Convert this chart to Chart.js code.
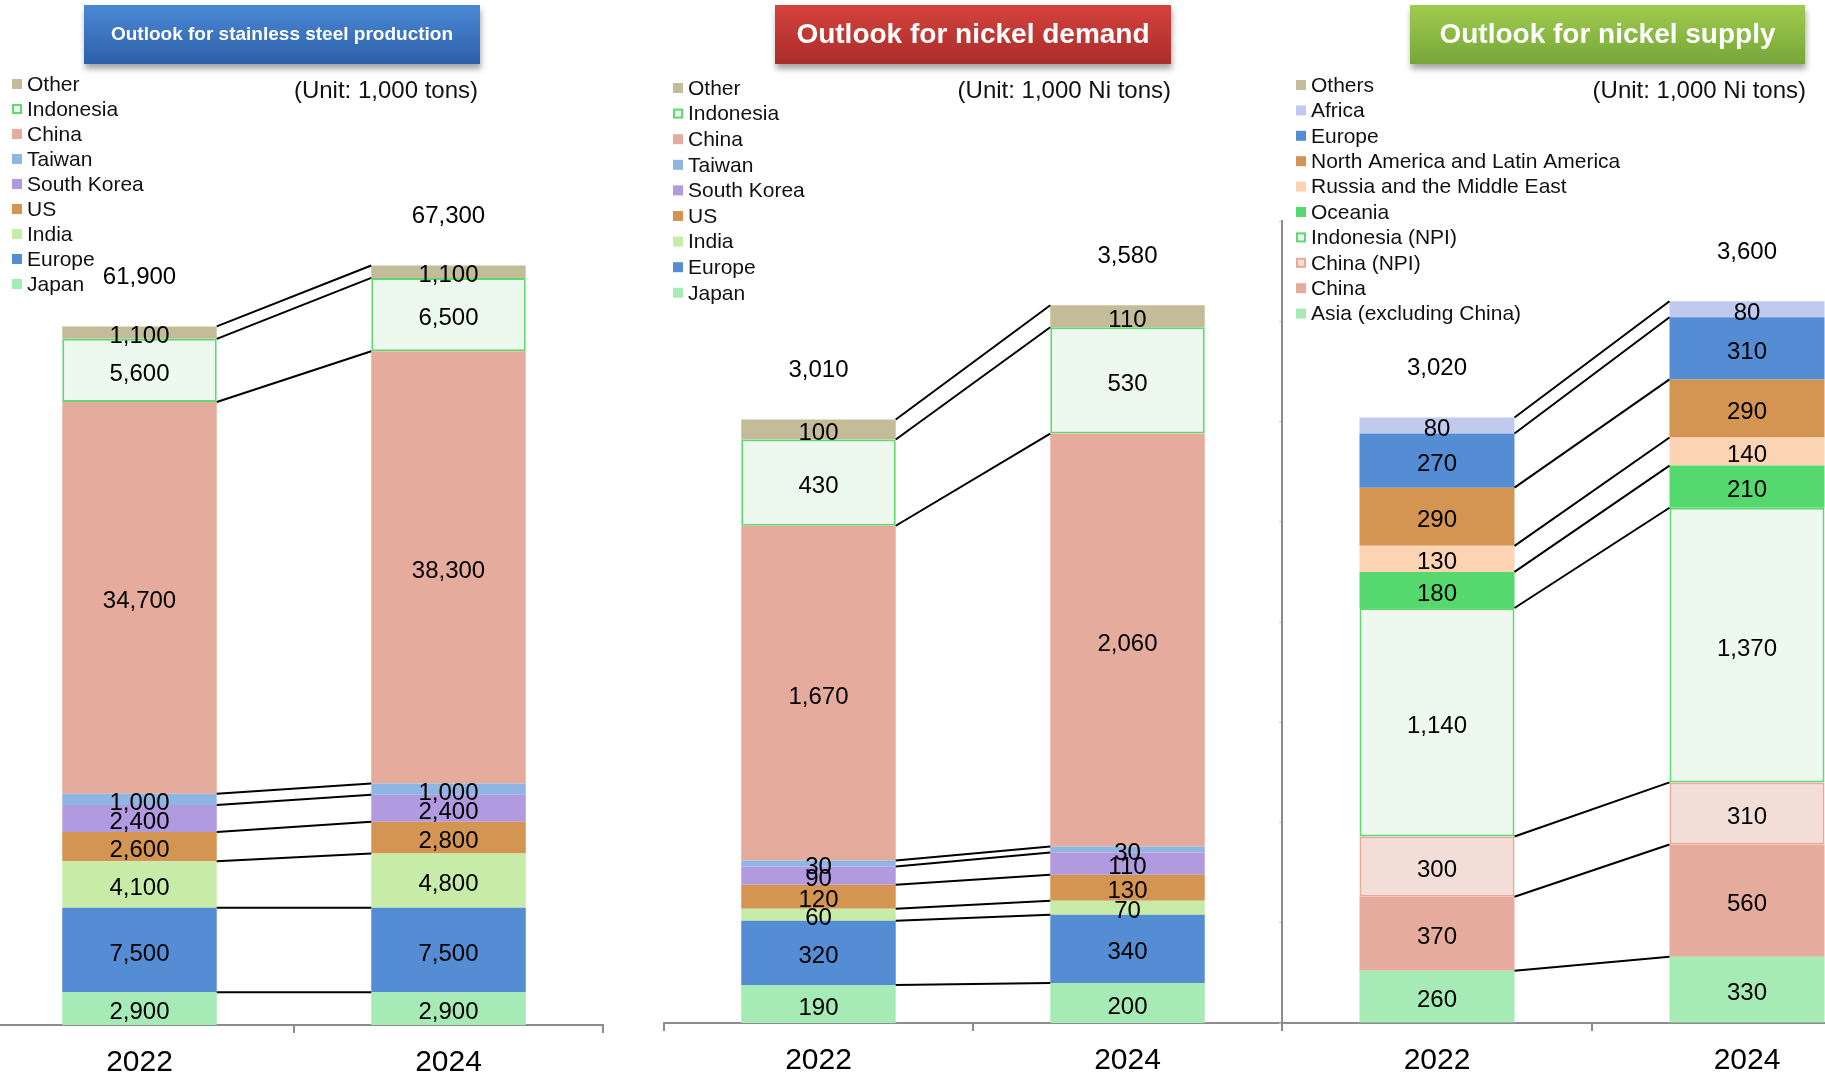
<!DOCTYPE html>
<html>
<head>
<meta charset="utf-8">
<title>Stainless steel and nickel outlook</title>
<script src="https://cdn.jsdelivr.net/npm/chart.js@4.4.1/dist/chart.umd.min.js"></script>
<style>
  body { margin: 0; background: #fff; overflow: hidden; }
  #page { position: relative; width: 1825px; height: 1075px; overflow: hidden; font-family: "Liberation Sans", Arial, sans-serif; }
  canvas { position: absolute; top: 0; }
  .title { position: absolute; top: 5px; height: 59px; line-height: 57px; text-align: center; color: #fff; font-weight: bold;
           box-shadow: 1px 5px 6px rgba(0,0,0,0.35); }
  .unit { position: absolute; top: 76px; font-size: 24px; line-height: 28px; color: #111; white-space: nowrap; }
</style>
</head>
<body>
<div id="page">
  <canvas id="steel" width="624" height="1075" style="left:-20px"></canvas>
  <canvas id="demand" width="664" height="1075" style="left:637px"></canvas>
  <canvas id="supply" width="640" height="1075" style="left:1270px"></canvas>

  <div class="title" style="left:84px;width:396px;font-size:19px;background:linear-gradient(#4b89d6,#2d5fa8);">Outlook for stainless steel production</div>
  <div class="title" style="left:775px;width:396px;font-size:28px;background:linear-gradient(#d6423d,#a92d2a);">Outlook for nickel demand</div>
  <div class="title" style="left:1410px;width:395px;font-size:28px;background:linear-gradient(#a0cc4c,#76a63a);">Outlook for nickel supply</div>

  <div class="unit" style="right:1347px">(Unit: 1,000 tons)</div>
  <div class="unit" style="right:654px">(Unit: 1,000 Ni tons)</div>
  <div class="unit" style="right:19px">(Unit: 1,000 Ni tons)</div>
</div>

<script>
// ---- data (stack order: bottom first) ----
var years = ['2022', '2024'];

var steelRegions = ['Japan', 'Europe', 'India', 'US', 'South Korea', 'Taiwan', 'China', 'Indonesia', 'Other'];
var steel2022 = [2900, 7500, 4100, 2600, 2400, 1000, 34700, 5600, 1100];
var steel2024 = [2900, 7500, 4800, 2800, 2400, 1000, 38300, 6500, 1100];
var steelTotals = [61900, 67300];

var demandRegions = ['Japan', 'Europe', 'India', 'US', 'South Korea', 'Taiwan', 'China', 'Indonesia', 'Other'];
var demand2022 = [190, 320, 60, 120, 90, 30, 1670, 430, 100];
var demand2024 = [200, 340, 70, 130, 110, 30, 2060, 530, 110];
var demandTotals = [3010, 3580];

var supplyRegions = ['Asia (excluding China)', 'China', 'China (NPI)', 'Indonesia (NPI)', 'Oceania',
  'Russia and the Middle East', 'North America and Latin America', 'Europe', 'Africa', 'Others'];
var supply2022 = [260, 370, 300, 1140, 180, 130, 290, 270, 80, 0];
var supply2024 = [330, 560, 310, 1370, 210, 140, 290, 310, 80, 0];
var supplyTotals = [3020, 3600];

// ---- colours ----
var colors = {
  'Japan': '#a6eab5',
  'Europe': '#548dd4',
  'India': '#c6eca8',
  'US': '#d49552',
  'South Korea': '#b19ae0',
  'Taiwan': '#8fb5e3',
  'China': '#e5ac9d',
  'Indonesia': '#edf9ef',
  'Other': '#c4bc98',
  'Others': '#c4bc98',
  'Asia (excluding China)': '#a6eab5',
  'China (NPI)': '#f3ddd7',
  'Indonesia (NPI)': '#edf9ef',
  'Oceania': '#55d96e',
  'Russia and the Middle East': '#fcd4b4',
  'North America and Latin America': '#d49552',
  'Africa': '#c0caee'
};
var borders = {
  'Indonesia': '#5fd970',
  'Indonesia (NPI)': '#5fd970',
  'China (NPI)': '#eaa998'
};

var FONT = '"Liberation Sans", Arial, sans-serif';

function fmt(v) {
  return v.toLocaleString('en-US');
}

function makeDatasets(regions, a, b) {
  var sets = [];
  for (var i = 0; i < regions.length; i++) {
    var name = regions[i];
    sets.push({
      label: name,
      data: [a[i], b[i]],
      backgroundColor: colors[name],
      borderColor: borders[name] || colors[name],
      borderWidth: borders[name] ? 2 : 0,
      borderSkipped: false
    });
  }
  return sets;
}

// lines between stacks, value labels, totals and the legend list
var decorations = {
  id: 'decorations',
  afterDatasetsDraw: function(chart, args, opts) {
    var ctx = chart.ctx;
    var n = chart.data.datasets.length;
    ctx.save();

    // connector lines from the top of each segment
    ctx.strokeStyle = '#000';
    ctx.lineWidth = 2;
    for (var i = 0; i < n; i++) {
      var ds = chart.data.datasets[i];
      if (!ds.data[0] && !ds.data[1]) continue;
      var bars = chart.getDatasetMeta(i).data;
      ctx.beginPath();
      ctx.moveTo(bars[0].x + bars[0].width / 2, bars[0].y);
      ctx.lineTo(bars[1].x - bars[1].width / 2, bars[1].y);
      ctx.stroke();
    }

    // value labels inside segments
    ctx.fillStyle = '#000';
    ctx.font = '24px ' + FONT;
    ctx.textAlign = 'center';
    ctx.textBaseline = 'middle';
    for (var i = 0; i < n; i++) {
      var ds = chart.data.datasets[i];
      var bars = chart.getDatasetMeta(i).data;
      for (var j = 0; j < bars.length; j++) {
        if (!ds.data[j]) continue;
        ctx.fillText(fmt(ds.data[j]), bars[j].x, (bars[j].y + bars[j].base) / 2 + 4);
      }
    }

    // totals above each stack
    for (var j = 0; j < opts.totals.length; j++) {
      var top = Infinity, x = 0;
      for (var i = 0; i < n; i++) {
        var bar = chart.getDatasetMeta(i).data[j];
        if (bar.y < top) top = bar.y;
        x = bar.x;
      }
      ctx.fillText(fmt(opts.totals[j]), x, top - 49);
    }

    // legend, top entry is the top of the stack
    ctx.textAlign = 'left';
    ctx.font = '21px ' + FONT;
    for (var k = 0; k < n; k++) {
      var ds = chart.data.datasets[n - 1 - k];
      var y = opts.legendY + k * opts.legendStep;
      ctx.fillStyle = ds.backgroundColor;
      ctx.fillRect(opts.legendX, y - 5, 10, 10);
      if (ds.borderWidth) {
        ctx.strokeStyle = ds.borderColor;
        ctx.lineWidth = 2;
        ctx.strokeRect(opts.legendX + 1, y - 4, 8, 8);
      }
      ctx.fillStyle = '#111';
      ctx.fillText(ds.label, opts.legendX + 15, y + 1);
    }
    ctx.restore();
  }
};

function buildChart(id, regions, a, b, totals, yMax, showAxis, pad, legend) {
  var ctx = document.getElementById(id).getContext('2d');
  return new Chart(ctx, {
    type: 'bar',
    data: {
      labels: years,
      datasets: makeDatasets(regions, a, b)
    },
    options: {
      responsive: false,
      animation: false,
      devicePixelRatio: 1,
      barPercentage: 0.5,
      categoryPercentage: 1.0,
      layout: { padding: pad },
      plugins: {
        legend: { display: false },
        tooltip: { enabled: false },
        decorations: {
          totals: totals,
          legendX: legend[0],
          legendY: legend[1],
          legendStep: legend[2]
        }
      },
      scales: {
        x: {
          stacked: true,
          afterFit: function(scale) { scale.height = 50; },
          grid: { offset: true, drawOnChartArea: false, drawTicks: true, tickLength: 8, color: '#8c8c8c', lineWidth: 2 },
          border: { display: true, color: '#8c8c8c', width: 2 },
          ticks: { color: '#000', font: { size: 30, family: FONT }, padding: 12 }
        },
        y: {
          stacked: true,
          display: showAxis,
          min: 0,
          max: yMax,
          afterFit: function(scale) { scale.width = 5; },
          grid: { drawOnChartArea: false, drawTicks: true, tickLength: 3, color: '#c4c4c4' },
          border: { display: true, color: '#8c8c8c', width: 2 },
          ticks: { display: false, stepSize: 500 }
        }
      }
    },
    plugins: [decorations]
  });
}

buildChart('steel', steelRegions, steel2022, steel2024, steelTotals, 70000, false,
  { top: 235, left: 0, right: 1, bottom: 0 }, [32, 84, 25]);
buildChart('demand', demandRegions, demand2022, demand2024, demandTotals, 4000, false,
  { top: 221, left: 22, right: 19, bottom: 2 }, [36, 88, 25.6]);
buildChart('supply', supplyRegions, supply2022, supply2024, supplyTotals, 4000, true,
  { top: 221, left: 7, right: 8, bottom: 2 }, [26, 85, 25.4]);
</script>
</body>
</html>
